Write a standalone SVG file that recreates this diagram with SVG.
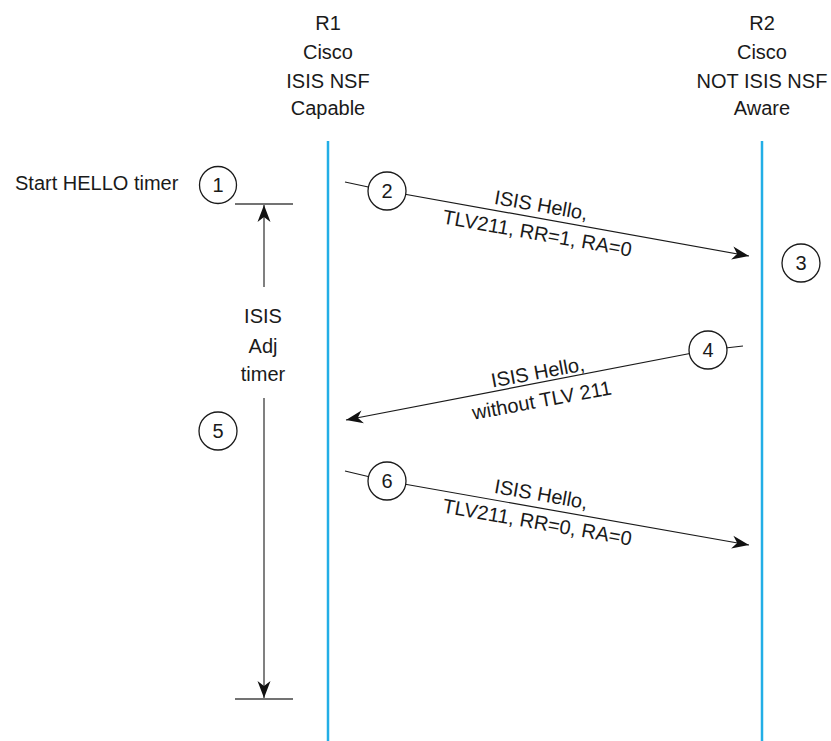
<svg xmlns="http://www.w3.org/2000/svg" width="831" height="741" viewBox="0 0 831 741">
<style>
text { font-family: "Liberation Sans", Arial, sans-serif; font-size: 20px; fill: #1a1a1a; }
.c { text-anchor: middle; }
.life { stroke: #22aee6; stroke-width: 2.5; fill: none; }
.msg { stroke: #1a1a1a; stroke-width: 1.2; fill: none; }
.num { fill: #fff; stroke: #1a1a1a; stroke-width: 1.3; }
.timer { stroke: #808080; stroke-width: 2; fill: none; }
.tick { stroke: #444; stroke-width: 1.5; }
</style>
<defs>
<marker id="ah" markerUnits="userSpaceOnUse" markerWidth="20" markerHeight="16" viewBox="-18 -8 20 16" refX="0" refY="0" orient="auto">
<path d="M0,0 L-17,-6.5 L-12,0 L-17,6.5 Z" fill="#111"/>
</marker>
</defs>
<rect width="831" height="741" fill="#fff"/>

<g id="r1">
<text class="c" x="328" y="30">R1</text>
<text class="c" x="328" y="59">Cisco</text>
<text class="c" x="328" y="88">ISIS NSF</text>
<text class="c" x="328" y="115">Capable</text>
<line class="life" x1="328" y1="141" x2="328" y2="741"/>
</g>

<g id="r2">
<text class="c" x="762" y="30">R2</text>
<text class="c" x="762" y="59">Cisco</text>
<text class="c" x="762" y="88">NOT ISIS NSF</text>
<text class="c" x="762" y="115">Aware</text>
<line class="life" x1="762" y1="141" x2="762" y2="741"/>
</g>

<g id="timer">
<line class="tick" x1="235" y1="204" x2="293" y2="204"/>
<line class="tick" x1="235" y1="699" x2="293" y2="699"/>
<line class="timer" x1="264" y1="287" x2="264" y2="205" marker-end="url(#ah)"/>
<line class="timer" x1="264" y1="398" x2="264" y2="698" marker-end="url(#ah)"/>
<text class="c" x="263" y="323">ISIS</text>
<text class="c" x="263" y="353">Adj</text>
<text class="c" x="263" y="381">timer</text>
</g>

<g id="connectors">
<polyline class="msg" points="345,182 387,191 749,256" marker-end="url(#ah)"/>
<polyline class="msg" points="743,346 708,350 346,420" marker-end="url(#ah)"/>
<polyline class="msg" points="345,471 387,481 749,545" marker-end="url(#ah)"/>
</g>

<g id="msg2-label">
<text class="c" transform="translate(540,212) rotate(10)">ISIS Hello,</text>
<text class="c" transform="translate(536,240) rotate(10)">TLV211, RR=1, RA=0</text>
</g>
<g id="msg4-label">
<text class="c" transform="translate(539,379) rotate(-10.5)">ISIS Hello,</text>
<text class="c" transform="translate(543,407) rotate(-10.5)">without TLV 211</text>
</g>
<g id="msg6-label">
<text class="c" transform="translate(540,501) rotate(10)">ISIS Hello,</text>
<text class="c" transform="translate(536,529) rotate(10)">TLV211, RR=0, RA=0</text>
</g>

<g id="start">
<text x="15" y="190">Start HELLO timer</text>
</g>

<g id="step1"><circle class="num" cx="218" cy="185" r="18.5"/><text class="c" x="218" y="192">1</text></g>
<g id="step2"><circle class="num" cx="387" cy="191" r="19"/><text class="c" x="387" y="198">2</text></g>
<g id="step3"><circle class="num" cx="801" cy="263" r="19"/><text class="c" x="801" y="270">3</text></g>
<g id="step4"><circle class="num" cx="708" cy="350" r="19"/><text class="c" x="708" y="357">4</text></g>
<g id="step5"><circle class="num" cx="218" cy="431" r="19"/><text class="c" x="218" y="438">5</text></g>
<g id="step6"><circle class="num" cx="387" cy="481" r="19"/><text class="c" x="387" y="488">6</text></g>
</svg>
